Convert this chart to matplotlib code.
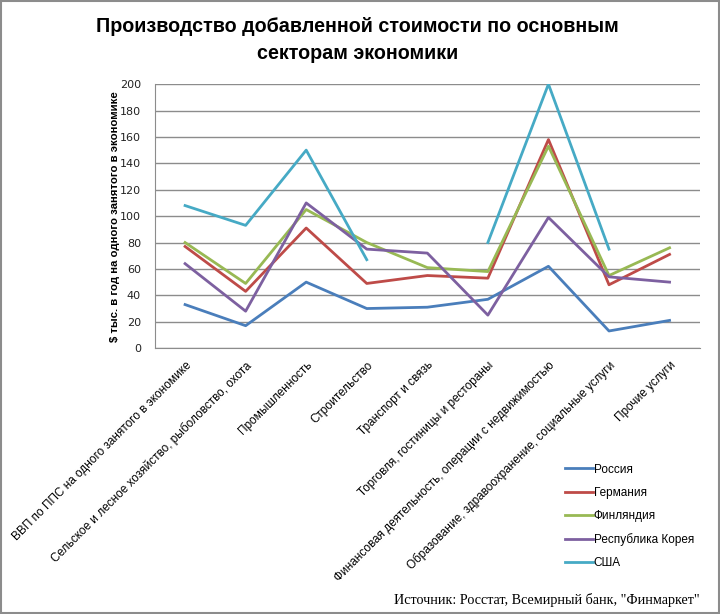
import matplotlib
matplotlib.use("Agg")
import matplotlib.pyplot as plt
import numpy as np
from matplotlib.patches import Rectangle

categories = [
    "ВВП по ППС на одного занятого в экономике",
    "Сельское и лесное хозяйство, рыболовство, охота",
    "Промышленность",
    "Строительство",
    "Транспорт и связь",
    "Торговля, гостиницы и рестораны",
    "Финансовая деятельность, операции с недвижимостью",
    "Образование, здравоохранение, социальные услуги",
    "Прочие услуги",
]

russia = [33, 17, 50, 30, 31, 37, 62, 13, 21]
germany = [77, 43, 91, 49, 55, 53, 158, 48, 71]
finland = [80, 49, 105, 80, 61, 58, 153, 55, 76]
korea = [64, 28, 110, 75, 72, 25, 99, 54, 50]
usa = [108, 93, 150, 67, np.nan, 80, 200, 75, np.nan]

series = [
    ("Россия", russia, "#4A7EBB"),
    ("Германия", germany, "#BE4B48"),
    ("Финляндия", finland, "#98B954"),
    ("Республика Корея", korea, "#7D60A0"),
    ("США", usa, "#46AAC5"),
]

plt.rcParams['font.family'] = ['Liberation Sans', 'DejaVu Sans']

fig = plt.figure(figsize=(7.2, 6.14), dpi=100)
ax = fig.add_axes([0.215, 0.433, 0.757, 0.43])

x = np.arange(len(categories))
for name, vals, col in series:
    ax.plot(x, vals, color=col, lw=2.0, label=name)

ax.set_xlim(-0.5, len(categories) - 0.5)
ax.set_ylim(0, 200)
ax.set_yticks(range(0, 201, 20))
ax.set_yticklabels([str(v) for v in range(0, 201, 20)], family='DejaVu Sans')
ax.tick_params(axis='y', length=0, labelsize=8, pad=10, colors='#222222')
ax.set_xticks(x)
ax.set_xticklabels(categories, rotation=45, ha='right', va='top',
                   rotation_mode='anchor', fontsize=8.5)
ax.tick_params(axis='x', length=0, pad=8)
ax.grid(axis='y', color='#8c8c8c', lw=1)
ax.set_axisbelow(True)
for s in ['top', 'right']:
    ax.spines[s].set_visible(False)
ax.spines['left'].set_color('#8c8c8c')
ax.spines['bottom'].set_color('#8c8c8c')

ax.set_ylabel("$ тыс. в год на одного занятого в экономике", fontsize=8.2,
              fontweight='bold', labelpad=-0.5)

fig.text(0.497, 0.972, "Производство добавленной стоимости по основным\nсекторам экономики",
         ha='center', va='top', fontsize=14.2, fontweight='bold',
         linespacing=1.55)

ax.legend(loc='upper left', bbox_to_anchor=(0.752, -0.437), frameon=False,
          fontsize=8.5, handlelength=2.4, handletextpad=0.05, labelspacing=0.95,
          borderaxespad=0, borderpad=0)

fig.text(0.972, 0.012, 'Источник: Росстат, Всемирный банк, "Финмаркет"',
         ha='right', va='bottom', fontsize=10.2, family='Liberation Serif')

fig.patches.append(Rectangle((0.001, 0.001), 0.998, 0.998, transform=fig.transFigure,
                             fill=False, ec='#8c8c8c', lw=1.5))

fig.savefig("out.png", dpi=100)
